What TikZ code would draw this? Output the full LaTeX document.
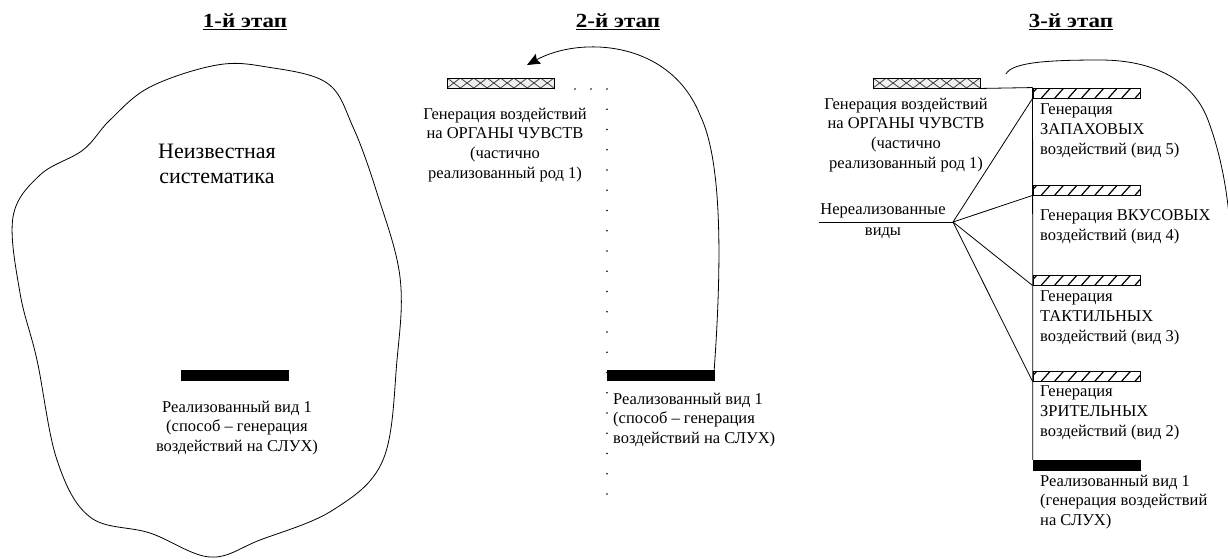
\documentclass[tikz,border=0pt]{standalone}
\usepackage{fontspec}
\setmainfont{Liberation Serif}
\usetikzlibrary{arrows.meta}
\begin{document}
\begin{tikzpicture}[x=1pt,y=-1pt,
  txt/.style={font=\fontsize{16.5}{19.8}\selectfont, inner sep=0pt, align=center},
  ltxt/.style={txt, align=left, anchor=west},
  bigtxt/.style={font=\fontsize{22}{25}\selectfont, inner sep=0pt, align=center},
  ttl/.style={font=\fontsize{20}{24}\selectfont\bfseries, inner sep=0pt, xscale=1.15},
  thin/.style={line width=0.8pt},
  solidbar/.style={fill=black, draw=black, minimum width=107pt, minimum height=10pt, inner sep=0pt},
  xbar/.style={draw=black, line width=0.9pt, fill=gray!12, minimum width=107pt, minimum height=10pt, inner sep=0pt,
    path picture={
      \foreach \i in {0,...,7}{
        \draw[line width=0.8pt, black!75] ([xshift=\i*13.375pt]path picture bounding box.south west) -- ++(13.375pt,10pt);
        \draw[line width=0.8pt, black!75] ([xshift=\i*13.375pt]path picture bounding box.north west) -- ++(13.375pt,-10pt);
      }}},
  slashbar/.style={draw=black, line width=0.9pt, minimum width=107pt, minimum height=10pt, inner sep=0pt,
    path picture={
      \foreach \i in {0,...,8}{
        \draw[line width=1.2pt] ([xshift=\i*13.4pt-5pt]path picture bounding box.south west) -- ++(9pt,10pt);
      }}},
]
\useasboundingbox (0,0) rectangle (1228,558);
\fill[white] (0,0) rectangle (1228,558);

% ---------- titles ----------
\node[ttl] (t1) at (245,22) {\underline{1-й этап}};
\node[ttl] (t2) at (618,22) {\underline{2-й этап}};
\node[ttl] (t3) at (1071,22) {\underline{3-й этап}};

% ---------- stage 1 ----------
\draw[thin] plot[smooth cycle, tension=0.6] coordinates {
  (217,65) (267,67) (327,83) (353,127) (377,193) (400,277) (397,360)
  (383,460) (333,510) (260,540) (210,557) (150,533) (90,517) (57,460)
  (37,360) (20,293) (13,217) (40,175) (83,150) (110,120) (150,87)};
\node[bigtxt] (unk) at (217,164) {Неизвестная\\систематика};
\node[solidbar] (r1) at (234.5,375.5) {};
\node[txt] (r1t) at (237,428) {Реализованный вид 1\\(способ – генерация\\воздействий на СЛУХ)};

% ---------- stage 2 ----------
\node[xbar] (x2) at (500.5,83) {};
\node[txt] (x2t) at (505,145) {Генерация воздействий\\на ОРГАНЫ ЧУВСТВ\\(частично\\реализованный род 1)};
\foreach \px in {575,591,607} \fill (\px,89) circle (0.9pt);
\foreach \k in {1,...,20} \fill (607,89+\k*20.25) circle (0.9pt);
\node[solidbar] (r2) at (660.5,375) {};
\node[ltxt] (r2t) at (613,420) {Реализованный вид 1\\(способ – генерация\\воздействий на СЛУХ)};
\coordinate (tip2) at (527,65);
\draw[thin, -{Stealth[length=13pt,width=11pt,inset=2pt]}]
  (r2.north east) .. controls (722,260) and (722,160) .. (700,115)
  .. controls (670,40) and (580,36) .. (tip2);

% ---------- stage 3 ----------
\node[xbar] (x3) at (926.5,83) {};
\node[txt] (x3t) at (906,135) {Генерация воздействий\\на ОРГАНЫ ЧУВСТВ\\(частично\\реализованный род 1)};

\node[slashbar] (s5) at (1086.5,93) {};
\node[slashbar] (s4) at (1086.5,190) {};
\node[slashbar] (s3) at (1086.5,280) {};
\node[slashbar] (s2) at (1086.5,376) {};
\node[solidbar] (r3) at (1086.5,465) {};

\draw[thin] (x3.south east) -- (s5.north west);
\draw[thin] (s5.north west) -- (r3.north west);

\node[ltxt] (g5) at (1040,131) {Генерация\\ЗАПАХОВЫХ\\воздействий (вид 5)};
\node[ltxt] (g4) at (1040,227) {Генерация ВКУСОВЫХ\\воздействий (вид 4)};
\node[ltxt] (g3) at (1040,318) {Генерация\\ТАКТИЛЬНЫХ\\воздействий (вид 3)};
\node[ltxt] (g2) at (1040,413) {Генерация\\ЗРИТЕЛЬНЫХ\\воздействий (вид 2)};
\node[ltxt] (r3t) at (1040,502) {Реализованный вид 1\\(генерация воздействий\\на СЛУХ)};

\node[txt] (nr) at (883,211) {Нереализованные};
\node[txt] (nv) at (883,233) {виды};
\coordinate (u0) at (819,222);
\coordinate (j) at (953,222);
\draw[thin] (u0) -- (j);
\draw[thin] (j) -- (s5.south west);
\draw[thin] (j) -- (s4.south west);
\draw[thin] (j) -- (s3.south west);
\draw[thin] (j) -- (s2.south west);

\coordinate (c3a) at (1006,74);
\coordinate (c3b) at (1229,215);
\draw[thin] (c3a) .. controls (1012,62) and (1050,60) .. (1100,60)
  .. controls (1160,60) and (1195,85) .. (1208,120)
  .. controls (1220,152) and (1226,185) .. (c3b);
\end{tikzpicture}
\end{document}
